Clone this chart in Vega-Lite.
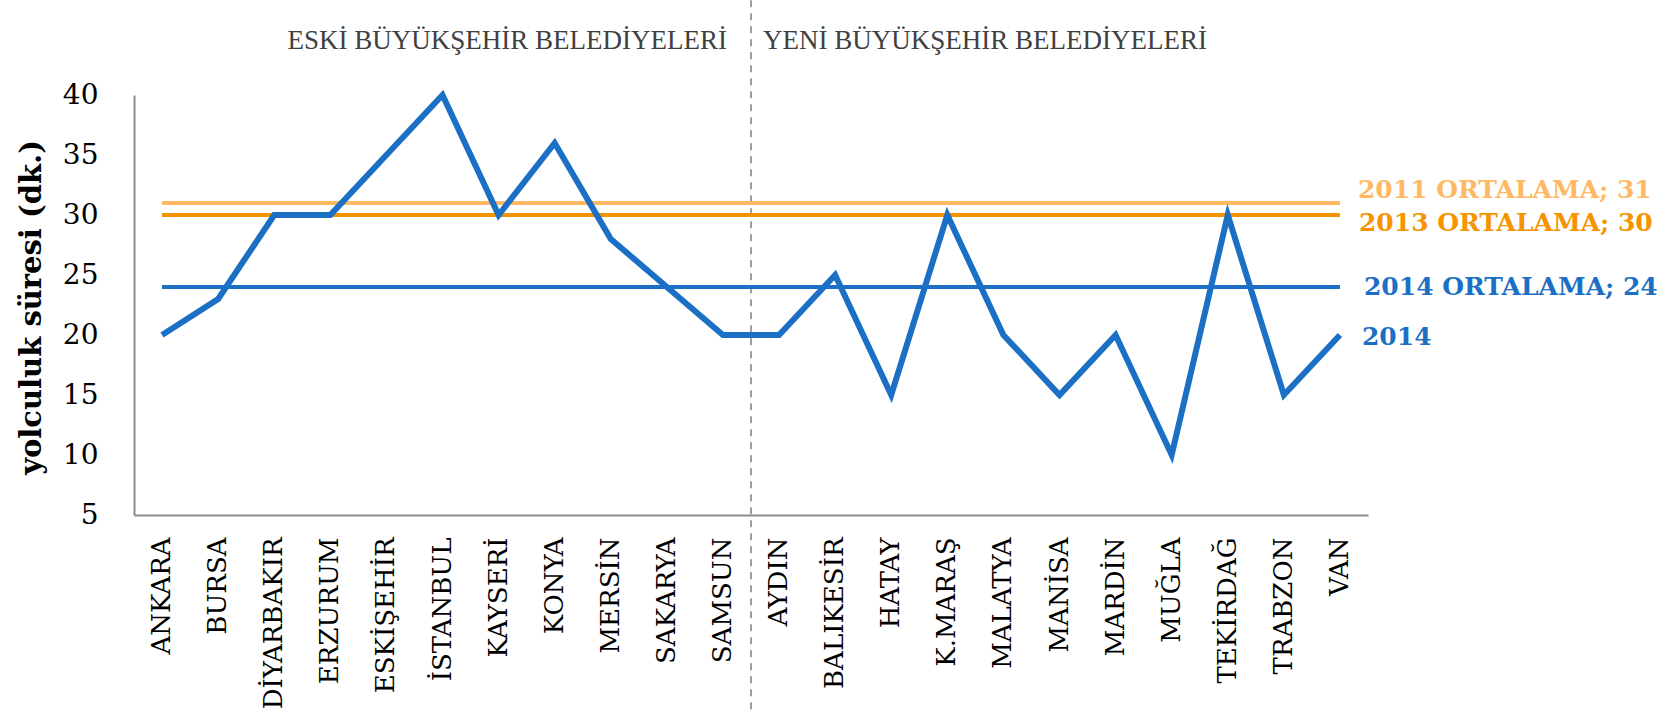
{
  "$schema": "https://vega.github.io/schema/vega-lite/v6.json",
  "width": 1234,
  "height": 420,
  "autosize": {"type": "none"},
  "padding": {"left": 134, "top": 95, "right": 303, "bottom": 210},
  "background": "white",
  "config": {"view": {"stroke": null}},
  "datasets": {
    "series": [
      {"city": "ANKARA", "group": "ESKİ", "value": 20},
      {"city": "BURSA", "group": "ESKİ", "value": 23},
      {"city": "DİYARBAKIR", "group": "ESKİ", "value": 30},
      {"city": "ERZURUM", "group": "ESKİ", "value": 30},
      {"city": "ESKİŞEHİR", "group": "ESKİ", "value": 35},
      {"city": "İSTANBUL", "group": "ESKİ", "value": 40},
      {"city": "KAYSERİ", "group": "ESKİ", "value": 30},
      {"city": "KONYA", "group": "ESKİ", "value": 36},
      {"city": "MERSİN", "group": "ESKİ", "value": 28},
      {"city": "SAKARYA", "group": "ESKİ", "value": 24},
      {"city": "SAMSUN", "group": "ESKİ", "value": 20},
      {"city": "AYDIN", "group": "YENİ", "value": 20},
      {"city": "BALIKESİR", "group": "YENİ", "value": 25},
      {"city": "HATAY", "group": "YENİ", "value": 15},
      {"city": "K.MARAŞ", "group": "YENİ", "value": 30},
      {"city": "MALATYA", "group": "YENİ", "value": 20},
      {"city": "MANİSA", "group": "YENİ", "value": 15},
      {"city": "MARDİN", "group": "YENİ", "value": 20},
      {"city": "MUĞLA", "group": "YENİ", "value": 10},
      {"city": "TEKİRDAĞ", "group": "YENİ", "value": 30},
      {"city": "TRABZON", "group": "YENİ", "value": 15},
      {"city": "VAN", "group": "YENİ", "value": 20}
    ],
    "avg": [
      {"series": "2011 ORTALAMA", "city": "ANKARA", "value": 31},
      {"series": "2011 ORTALAMA", "city": "VAN", "value": 31},
      {"series": "2013 ORTALAMA", "city": "ANKARA", "value": 30},
      {"series": "2013 ORTALAMA", "city": "VAN", "value": 30},
      {"series": "2014 ORTALAMA", "city": "ANKARA", "value": 24},
      {"series": "2014 ORTALAMA", "city": "VAN", "value": 24}
    ]
  },
  "encoding": {
    "x": {
      "field": "city",
      "type": "nominal",
      "scale": {
        "type": "band",
        "paddingInner": 0,
        "paddingOuter": 0,
        "domain": ["ANKARA", "BURSA", "DİYARBAKIR", "ERZURUM", "ESKİŞEHİR", "İSTANBUL", "KAYSERİ", "KONYA", "MERSİN", "SAKARYA", "SAMSUN", "AYDIN", "BALIKESİR", "HATAY", "K.MARAŞ", "MALATYA", "MANİSA", "MARDİN", "MUĞLA", "TEKİRDAĞ", "TRABZON", "VAN"]
      },
      "axis": {
        "title": null,
        "labelAngle": -90,
        "labelFont": "DejaVu Serif",
        "labelFontSize": 26,
        "labelColor": "#000000",
        "labelPadding": 22,
        "labelLimit": 0,
        "labelOverlap": false,
        "ticks": false,
        "tickSize": 0,
        "grid": false,
        "domainColor": "#8c8c8c",
        "domainWidth": 2
      }
    },
    "y": {
      "type": "quantitative",
      "scale": {"domain": [5, 40], "nice": false, "zero": false},
      "axis": {
        "title": "yolculuk süresi  (dk.)",
        "titleFont": "DejaVu Serif",
        "titleFontSize": 29,
        "titleFontWeight": "bold",
        "titleColor": "#000000",
        "titleX": -103,
        "titleY": 212,
        "titleAngle": -90,
        "titleAlign": "center",
        "titleBaseline": "middle",
        "values": [5, 10, 15, 20, 25, 30, 35, 40],
        "labelFont": "DejaVu Serif",
        "labelFontSize": 28,
        "labelColor": "#000000",
        "labelPadding": 36,
        "ticks": false,
        "tickSize": 0,
        "grid": false,
        "domainColor": "#8c8c8c",
        "domainWidth": 2
      }
    }
  },
  "layer": [
    {
      "data": {"values": [{"city": "SAMSUN"}]},
      "mark": {"type": "rule", "color": "#7f7f7f", "strokeWidth": 1.5, "strokeDash": [7, 6]},
      "encoding": {
        "x": {"field": "city", "type": "nominal", "bandPosition": 1},
        "y": {"datum": 47.9, "type": "quantitative"},
        "y2": {"datum": -11.2}
      }
    },
    {
      "data": {"values": [{"city": "SAMSUN"}]},
      "mark": {"type": "text", "align": "right", "baseline": "middle", "dx": -24, "font": "Liberation Serif", "fontSize": 27, "color": "#404040", "text": "ESKİ BÜYÜKŞEHİR BELEDİYELERİ"},
      "encoding": {
        "x": {"field": "city", "type": "nominal", "bandPosition": 1},
        "y": {"datum": 44.5, "type": "quantitative"}
      }
    },
    {
      "data": {"values": [{"city": "SAMSUN"}]},
      "mark": {"type": "text", "align": "left", "baseline": "middle", "dx": 12, "font": "Liberation Serif", "fontSize": 27, "color": "#404040", "text": "YENİ BÜYÜKŞEHİR BELEDİYELERİ"},
      "encoding": {
        "x": {"field": "city", "type": "nominal", "bandPosition": 1},
        "y": {"datum": 44.5, "type": "quantitative"}
      }
    },
    {
      "data": {"name": "avg"},
      "mark": {"type": "line", "strokeWidth": 4},
      "encoding": {
        "y": {"field": "value", "type": "quantitative"},
        "color": {
          "field": "series",
          "type": "nominal",
          "scale": {"domain": ["2011 ORTALAMA", "2013 ORTALAMA", "2014 ORTALAMA"], "range": ["#FFB964", "#F59300", "#1B70C6"]},
          "legend": null
        }
      }
    },
    {
      "data": {"name": "series"},
      "mark": {"type": "line", "strokeWidth": 6, "color": "#1B70C6", "strokeJoin": "miter"},
      "encoding": {
        "y": {"field": "value", "type": "quantitative"}
      }
    },
    {
      "data": {"values": [{"city": "VAN", "value": 31, "label": "2011 ORTALAMA; 31"}]},
      "mark": {"type": "text", "align": "left", "baseline": "middle", "dx": 18, "dy": -13, "font": "DejaVu Serif", "fontWeight": "bold", "fontSize": 25, "color": "#FFB964"},
      "encoding": {"y": {"field": "value", "type": "quantitative"}, "text": {"field": "label"}}
    },
    {
      "data": {"values": [{"city": "VAN", "value": 30, "label": "2013 ORTALAMA; 30"}]},
      "mark": {"type": "text", "align": "left", "baseline": "middle", "dx": 19, "dy": 8, "font": "DejaVu Serif", "fontWeight": "bold", "fontSize": 25, "color": "#F59300"},
      "encoding": {"y": {"field": "value", "type": "quantitative"}, "text": {"field": "label"}}
    },
    {
      "data": {"values": [{"city": "VAN", "value": 24, "label": "2014 ORTALAMA; 24"}]},
      "mark": {"type": "text", "align": "left", "baseline": "middle", "dx": 24, "dy": 0, "font": "DejaVu Serif", "fontWeight": "bold", "fontSize": 25, "color": "#1B70C6"},
      "encoding": {"y": {"field": "value", "type": "quantitative"}, "text": {"field": "label"}}
    },
    {
      "data": {"values": [{"city": "VAN", "value": 20, "label": "2014"}]},
      "mark": {"type": "text", "align": "left", "baseline": "middle", "dx": 22, "dy": 2, "font": "DejaVu Serif", "fontWeight": "bold", "fontSize": 25, "color": "#1B70C6"},
      "encoding": {"y": {"field": "value", "type": "quantitative"}, "text": {"field": "label"}}
    }
  ]
}
